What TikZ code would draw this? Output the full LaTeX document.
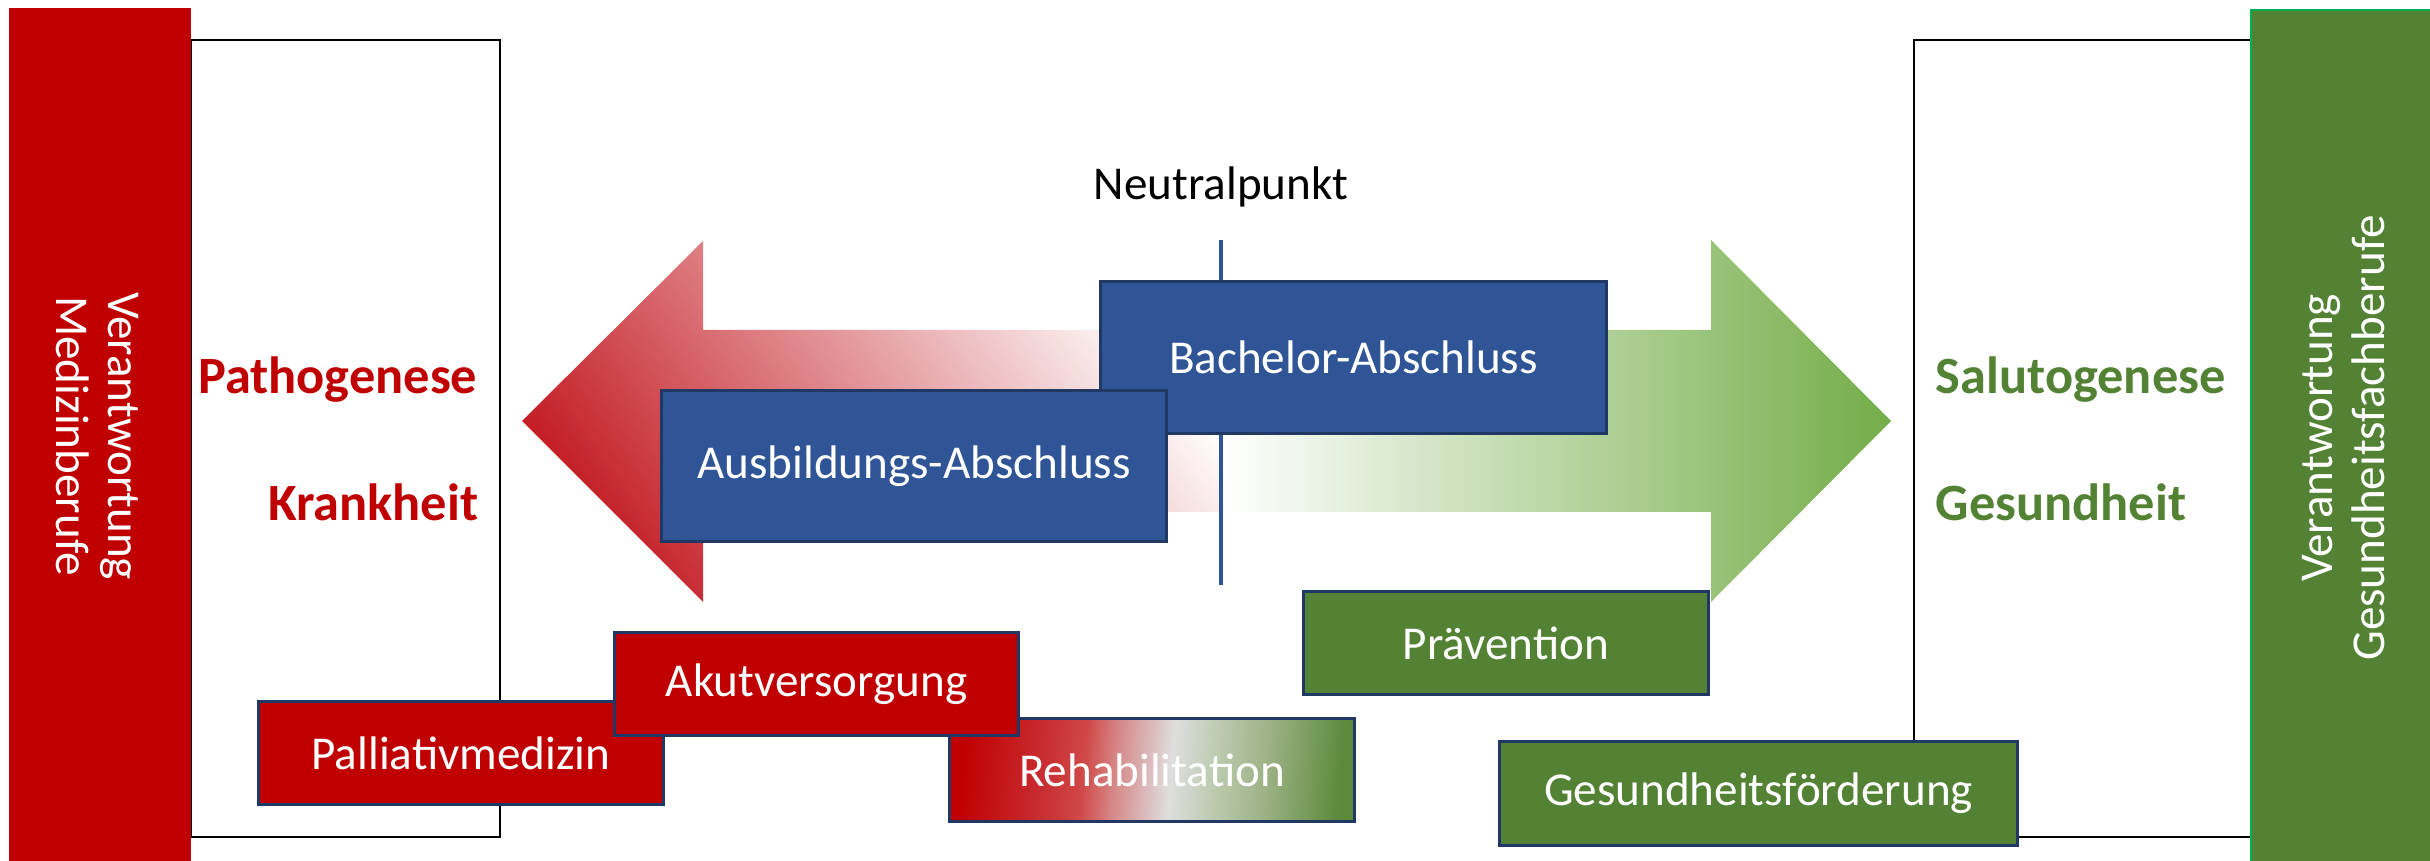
\documentclass[tikz,border=0pt]{standalone}
\usepackage{fontspec}
\setmainfont{Carlito}
\usetikzlibrary{positioning}

\definecolor{medred}{HTML}{C00000}
\definecolor{fachgreen}{HTML}{548235}
\definecolor{abschlussblue}{HTML}{2F5597}
\definecolor{boxline}{HTML}{1F3864}
\definecolor{arrowred}{HTML}{C41E26}
\definecolor{arrowgreen}{HTML}{74AD48}
\definecolor{bargreenline}{HTML}{00B050}
\definecolor{rehabA}{HTML}{C82A2E}
\definecolor{rehabB}{HTML}{D04848}
\definecolor{rehabC}{HTML}{D68585}
\definecolor{rehabD}{HTML}{DEDEDE}
\definecolor{rehabE}{HTML}{B9C8AA}
\definecolor{rehabF}{HTML}{9DB286}
\definecolor{rehabG}{HTML}{5A8A3A}

\pgfdeclarehorizontalshading{rehabshade}{100bp}{color(0bp)=(medred); color(25bp)=(medred);
  color(35bp)=(rehabA); color(41bp)=(rehabB); color(45bp)=(rehabC); color(52.5bp)=(rehabD);
  color(59bp)=(rehabE); color(65bp)=(rehabF); color(75bp)=(rehabG); color(100bp)=(rehabG)}

\newcommand\boxfont{\fontsize{13.4}{14.8}\selectfont}
\newcommand\leitfont{\fontsize{14.9}{17}\selectfont\bfseries}

\begin{document}
\begin{tikzpicture}[x=0.01cm,y=-0.01cm,
    bereich/.style={draw=boxline,line width=0.85pt,text=white,font=\boxfont,
      minimum height=1.02cm,inner sep=0pt},
    leitwort/.style={font=\leitfont,inner sep=0pt}]
  \useasboundingbox (0,0) rectangle (2430,861);
  % Rahmen
  \draw[line width=0.7pt] (191,40) rectangle (500,837);
  \draw[line width=0.7pt] (1914,40) rectangle (2251,837);
  % Verantwortung
  \fill[medred] (9,8) rectangle (191,870);
  \filldraw[fill=fachgreen,draw=bargreenline,line width=0.5pt] (2251,10) rectangle (2440,870);
  \node[rotate=-90,align=center,text=white,font=\boxfont] (medizin) at (97,436) {Verantwortung\\Medizinberufe};
  \node[rotate=90,align=center,text=white,font=\boxfont] (fach) at (2344,438) {Verantwortung\\Gesundheitsfachberufe};
  \node[leitwort,text=medred,anchor=base east] (patho) at (478,394) {Pathogenese};
  \node[leitwort,text=medred,anchor=base east] (krank) at (479,521) {Krankheit};
  \node[leitwort,text=fachgreen,anchor=base west] (saluto) at (1935,394) {Salutogenese};
  \node[leitwort,text=fachgreen,anchor=base west] (gesund) at (1935,521) {Gesundheit};
  % Pfeile
  \shade[left color=arrowred,right color=white,shading angle=125]
    (522,421) -- (703,241) -- (703,330) -- (1221,330) -- (1221,512) -- (703,512) -- (703,602) -- cycle;
  \shade[left color=white,right color=arrowgreen]
    (1221,330) -- (1711,330) -- (1711,240) -- (1891,421) -- (1711,602) -- (1711,512) -- (1221,512) -- cycle;
  \node[font=\boxfont,anchor=base] (neutral) at (1221,200) {Neutralpunkt};
  \coordinate (oben) at (1221,240);
  \coordinate (unten) at (1221,585);
  \draw[abschlussblue,line width=1.2pt] (oben) -- (unten);
  % Abschluesse
  \begin{scope}[every node/.style={bereich,fill=abschlussblue,minimum height=1.51cm}]
    \node[minimum width=5.05cm] (bachelor) at (1353.5,357.5) {Bachelor-Abschluss};
    \node[minimum width=5.04cm] (ausbildung) at (914,466) {Ausbildungs-Abschluss};
  \end{scope}
  % Versorgung
  \node[bereich,fill=fachgreen,minimum width=4.04cm] (praevention) at (1506,643) {Prävention};
  \node[bereich,shade,shading=rehabshade,shading angle=-5,minimum width=4.04cm] (rehab) at (1152,770) {Rehabilitation};
  \foreach \name/\x/\y/\txt in {palliativ/461/753/Palliativmedizin,akut/816.5/684/Akutversorgung}
    \node[bereich,fill=medred,minimum width=4.04cm] (\name) at (\x,\y) {\txt};
  \node[bereich,fill=fachgreen,minimum width=5.17cm,minimum height=1.03cm] (foerderung) at (1758.5,793.5) {Gesundheitsförderung};
\end{tikzpicture}
\end{document}
